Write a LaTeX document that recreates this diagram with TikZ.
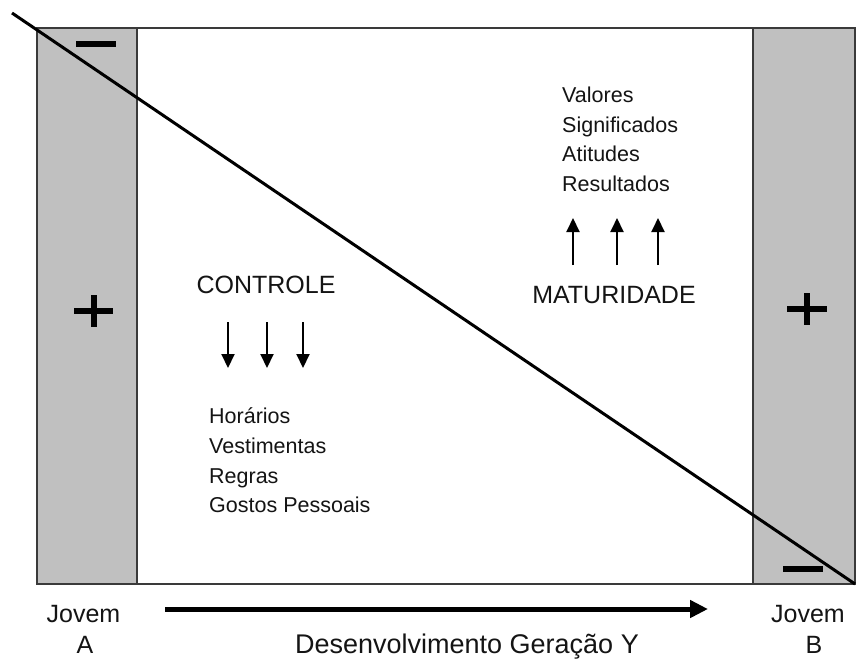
\documentclass[tikz,border=0pt]{standalone}
\usepackage{fontspec}
\setmainfont{Liberation Sans}
\usetikzlibrary{arrows.meta}
\definecolor{colgrey}{HTML}{C0C0C0}
\definecolor{edgegrey}{HTML}{3A3A3A}
\definecolor{txt}{HTML}{141414}
\tikzset{
  frame/.style={draw=edgegrey, line width=2pt},
  diag/.style={draw=black, line width=3pt},
  signbar/.style={draw=black, line width=6pt},
  bigtext/.style={font=\fontsize{25}{30}\selectfont, text=txt, inner sep=0pt},
  smalltext/.style={font=\fontsize{21.5}{26}\selectfont, text=txt, inner sep=0pt, anchor=base west},
  smallarrow/.style={draw=black, line width=2pt, -{Triangle[length=14pt,width=13pt]}},
  longarrow/.style={draw=black, line width=5pt, -{Triangle[length=18pt,width=17pt]}}
}
\begin{document}
\begin{tikzpicture}[x=1pt,y=-1pt]
\useasboundingbox (0,0) rectangle (858,662);
\fill[white] (0,0) rectangle (858,662);

% grey columns and frame
\draw[frame, fill=colgrey] (37,28) rectangle (137,584);
\draw[frame, fill=colgrey] (753,28) rectangle (855,584);
\draw[frame] (37,28) rectangle (855,584);

% diagonal
\coordinate (dstart) at (12,13);
\coordinate (dend) at (855,584);
\draw[diag] (dstart) -- (dend);

% minus signs
\draw[signbar] (76,44) -- (116,44);
\draw[signbar] (783,569) -- (823,569);

% plus signs
\draw[signbar] (74,311) -- (113,311) (93.5,295) -- (93.5,327);
\draw[signbar] (787,309) -- (827,309) (807,293) -- (807,325);

% left block
\node[bigtext, anchor=base] (controle) at (266,293) {CONTROLE};
\foreach \i/\x in {1/228,2/267,3/303}{
  \coordinate (ds\i) at (\x,322);
  \coordinate (de\i) at (\x,368);
  \draw[smallarrow] (ds\i) -- (de\i);
}
\node[smalltext] (horarios) at (209,423) {Horários};
\node[smalltext] (vestimentas) at (209,453) {Vestimentas};
\node[smalltext] (regras) at (209,483) {Regras};
\node[smalltext] (gostos) at (209,512) {Gostos Pessoais};

% right block
\node[smalltext] (valores) at (562,102.5) {Valores};
\node[smalltext] (significados) at (562,132) {Significados};
\node[smalltext] (atitudes) at (562,161.5) {Atitudes};
\node[smalltext] (resultados) at (562,191) {Resultados};
\foreach \i/\x in {1/573,2/617,3/658}{
  \coordinate (us\i) at (\x,265);
  \coordinate (ue\i) at (\x,218);
  \draw[smallarrow] (us\i) -- (ue\i);
}
\node[bigtext, anchor=base] (maturidade) at (614,303) {MATURIDADE};

% bottom labels
\node[bigtext, anchor=base] (jovemA) at (83.5,622) {Jovem};
\node[bigtext, anchor=base] (letterA) at (85,653.5) {A};
\node[bigtext, anchor=base] (jovemB) at (808,622) {Jovem};
\node[bigtext, anchor=base] (letterB) at (814,653.5) {B};
\coordinate (astart) at (165,609);
\coordinate (aend) at (708,609);
\draw[longarrow] (astart) -- (aend);
\node[bigtext, anchor=base, font=\fontsize{27}{30}\selectfont] (desenv) at (467,653) {Desenvolvimento Geração Y};
\end{tikzpicture}
\end{document}
